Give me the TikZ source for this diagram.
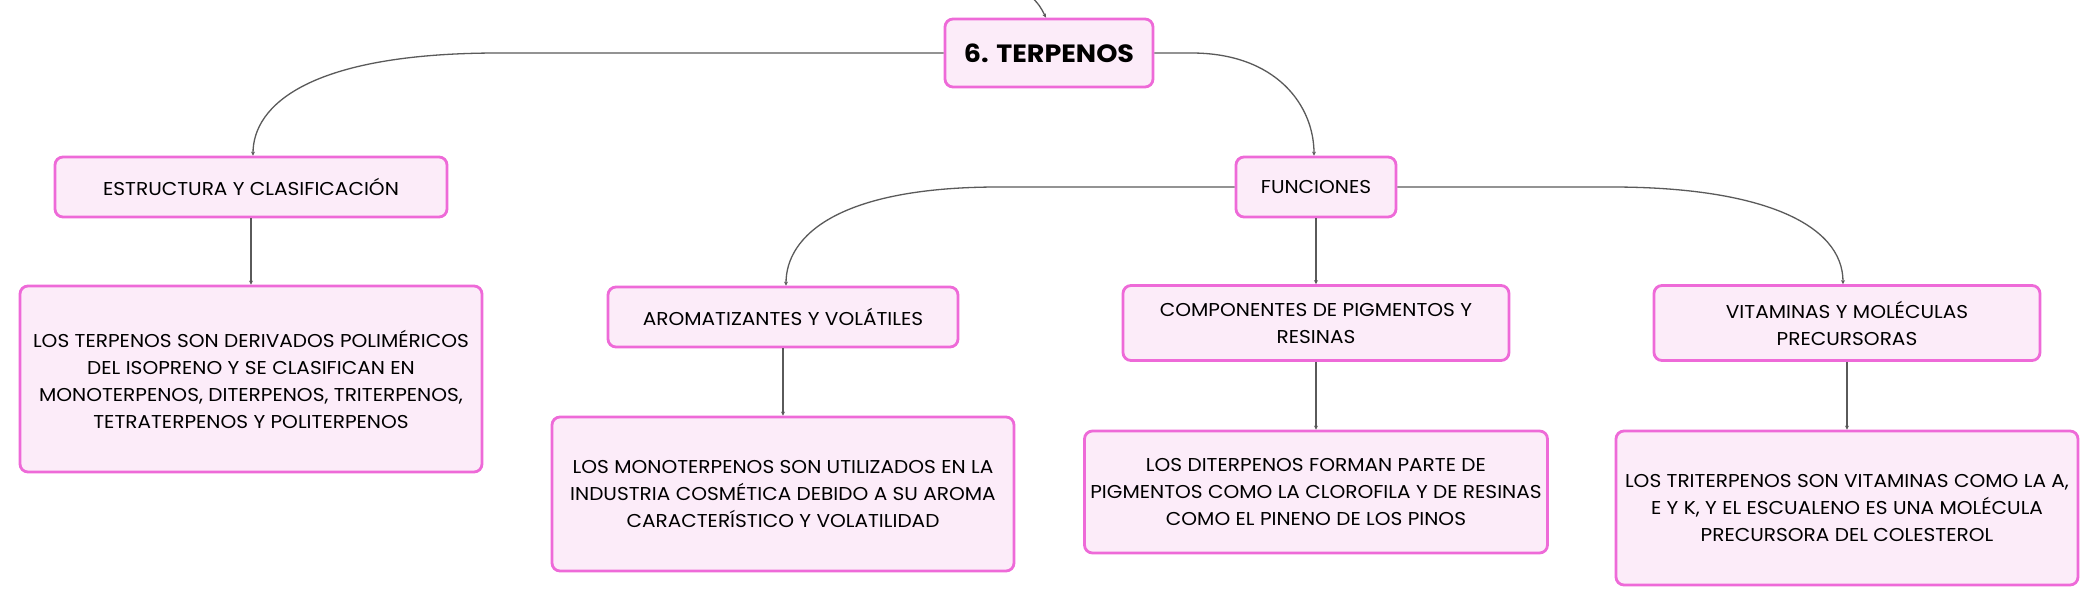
\documentclass[tikz,border=0pt]{standalone}
\usepackage{fontspec}
\setmainfont{Poppins}[FakeStretch = 1.08]
\usetikzlibrary{arrows.meta}
\definecolor{rosa}{HTML}{EE6AD8}
\definecolor{rosaclaro}{HTML}{FCECF9}
\definecolor{linea}{HTML}{5A5A5A}
\tikzset{x = 0.5pt, y = -0.5pt,
  link/.style = {draw = linea, line width = 0.65pt, -{Stealth[length = 2pt, width = 2pt]}},
  box/.style = {draw = rosa, fill = rosaclaro, line width = 1.4pt, rounded corners = 4pt,
    align = center, inner sep = 0pt, font = \fontsize{9.3}{13.5}\selectfont}}

\begin{document}
\begin{tikzpicture}
  \path [use as bounding box, fill = white] (0, 0) rectangle (2100, 605);
  % nodes
  \node [box, font = \bfseries\fontsize{12.5}{15}\selectfont, minimum width = 104pt, minimum height = 34pt] (terpenos) at (1049, 53) {6. TERPENOS};
  \node [box, minimum width = 196pt, minimum height = 30pt] (estructura) at (251, 187) {ESTRUCTURA Y CLASIFICACIÓN};
  \node [box, minimum width = 231pt, minimum height = 93pt] (estructuratxt) at (251, 379)
    {LOS TERPENOS SON DERIVADOS POLIMÉRICOS\\DEL ISOPRENO Y SE CLASIFICAN EN\\MONOTERPENOS, DITERPENOS, TRITERPENOS,\\TETRATERPENOS Y POLITERPENOS};
  \node [box, minimum width = 80pt, minimum height = 30pt] (funciones) at (1316, 187) {FUNCIONES};
  \node [box, minimum width = 175pt, minimum height = 30pt] (aroma) at (783, 317) {AROMATIZANTES Y VOLÁTILES};
  \node [box, minimum width = 231pt, minimum height = 77pt] (aromatxt) at (783, 494)
    {LOS MONOTERPENOS SON UTILIZADOS EN LA\\INDUSTRIA COSMÉTICA DEBIDO A SU AROMA\\CARACTERÍSTICO Y VOLATILIDAD};
  \node [box, minimum width = 193pt, minimum height = 37.5pt] (pigmentos) at (1316, 323) {COMPONENTES DE PIGMENTOS Y\\RESINAS};
  \node [box, minimum width = 231.5pt, minimum height = 61pt] (pigmentostxt) at (1316, 492)
    {LOS DITERPENOS FORMAN PARTE DE\\PIGMENTOS COMO LA CLOROFILA Y DE RESINAS\\COMO EL PINENO DE LOS PINOS};
  \node [box, minimum width = 193pt, minimum height = 37.5pt] (vitaminas) at (1847, 323) {VITAMINAS Y MOLÉCULAS\\PRECURSORAS};
  \node [box, minimum width = 231pt, minimum height = 77pt] (vitaminastxt) at (1847, 508)
    {LOS TRITERPENOS SON VITAMINAS COMO LA A,\\E Y K, Y EL ESCUALENO ES UNA MOLÉCULA\\PRECURSORA DEL COLESTEROL};
  \coordinate (padre) at (1031, -4);
  % edges
  \draw [link] (padre) .. controls (1040, 6) .. ([xshift = -1.5pt] terpenos.north);
  \draw [link] (terpenos.west) -- ++(-445, 0) .. controls +(-190, 0) and +(0, -50) .. ([xshift = 1pt] estructura.north);
  \draw [link] (terpenos.east) -- ++(37, 0) .. controls +(85, 0) and +(0, -50) .. ([xshift = -1pt] funciones.north);
  \draw [link] (funciones.west) -- ++(-236, 0) .. controls +(-160, 0) and +(0, -50) .. ([xshift = 1.5pt] aroma.north);
  \draw [link] (funciones.east) -- ++(214, 0) .. controls +(150, 0) and +(0, -60) .. ([xshift = -2pt] vitaminas.north);
  \foreach \a/\b in {estructura/estructuratxt, funciones/pigmentos, aroma/aromatxt, pigmentos/pigmentostxt, vitaminas/vitaminastxt} {
    \draw [link] (\a) -- (\b);
  }
\end{tikzpicture}
\end{document}
